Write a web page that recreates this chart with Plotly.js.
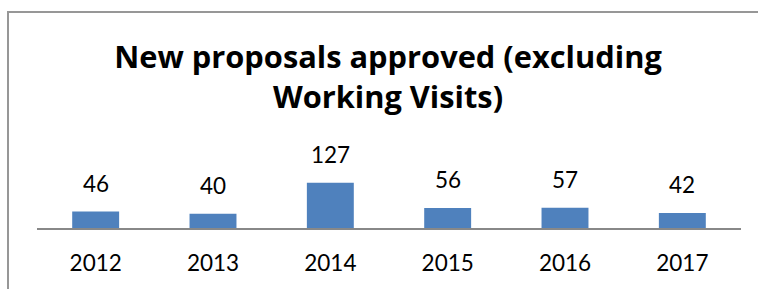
<!DOCTYPE html>
<html>
<head>
<meta charset="utf-8">
<script src="https://cdn.plot.ly/plotly-3.0.1.min.js"></script>
<style>
  html, body { margin: 0; padding: 0; width: 758px; height: 289px; overflow: hidden; background: #fff; }
  #chart { position: absolute; left: 0; top: 0; width: 758px; height: 289px; }
  #frame { position: absolute; left: 7px; top: 11px; width: 800px; height: 400px; border: 2px solid #979797; box-sizing: border-box; pointer-events: none; }
</style>
</head>
<body>
<div id="chart"></div>
<div id="frame"></div>
<script>
const years = ["2012", "2013", "2014", "2015", "2016", "2017"];
const proposals = [46, 40, 127, 56, 57, 42];
const chartTitle = "New proposals approved (excluding<br>Working Visits)";

const font = "Lato, 'Open Sans', sans-serif";
const titleFont = "'Open Sans', Lato, sans-serif";

const trace = {
  type: "bar",
  x: years,
  y: proposals,
  marker: { color: "#4F81BD" },
  hoverinfo: "none"
};

// annotations on a category axis use the category's serial number
const annotations = years.map((yr, i) => ({
  x: i,
  y: proposals[i],
  xref: "x",
  yref: "y",
  text: String(proposals[i]),
  showarrow: false,
  yanchor: "bottom",
  yshift: 13,
  font: { family: font, size: 22.5, color: "#000" }
}));

const layout = {
  width: 758,
  height: 289,
  margin: { l: 37, r: 17, t: 130, b: 61 },
  paper_bgcolor: "rgba(0,0,0,0)",
  plot_bgcolor: "rgba(0,0,0,0)",
  bargap: 0.6,
  showlegend: false,
  title: {
    text: chartTitle,
    font: { family: titleFont, size: 30.8, color: "#000", weight: "bold" },
    x: 388 / 758,
    xref: "container",
    xanchor: "center",
    y: 1 - 68 / 289,
    yref: "container",
    yanchor: "middle"
  },
  xaxis: {
    type: "category",
    range: [-0.5, years.length - 0.5],
    autorange: false,
    showline: true,
    linecolor: "#888888",
    linewidth: 2,
    ticks: "",
    showgrid: false,
    zeroline: false,
    tickfont: { family: font, size: 22.5, color: "#000" },
    ticklabelstandoff: 14
  },
  yaxis: {
    range: [0, 275],
    autorange: false,
    visible: false,
    showgrid: false,
    zeroline: false
  },
  annotations: annotations
};

Plotly.newPlot("chart", [trace], layout, { displayModeBar: false, staticPlot: true });
</script>
</body>
</html>
